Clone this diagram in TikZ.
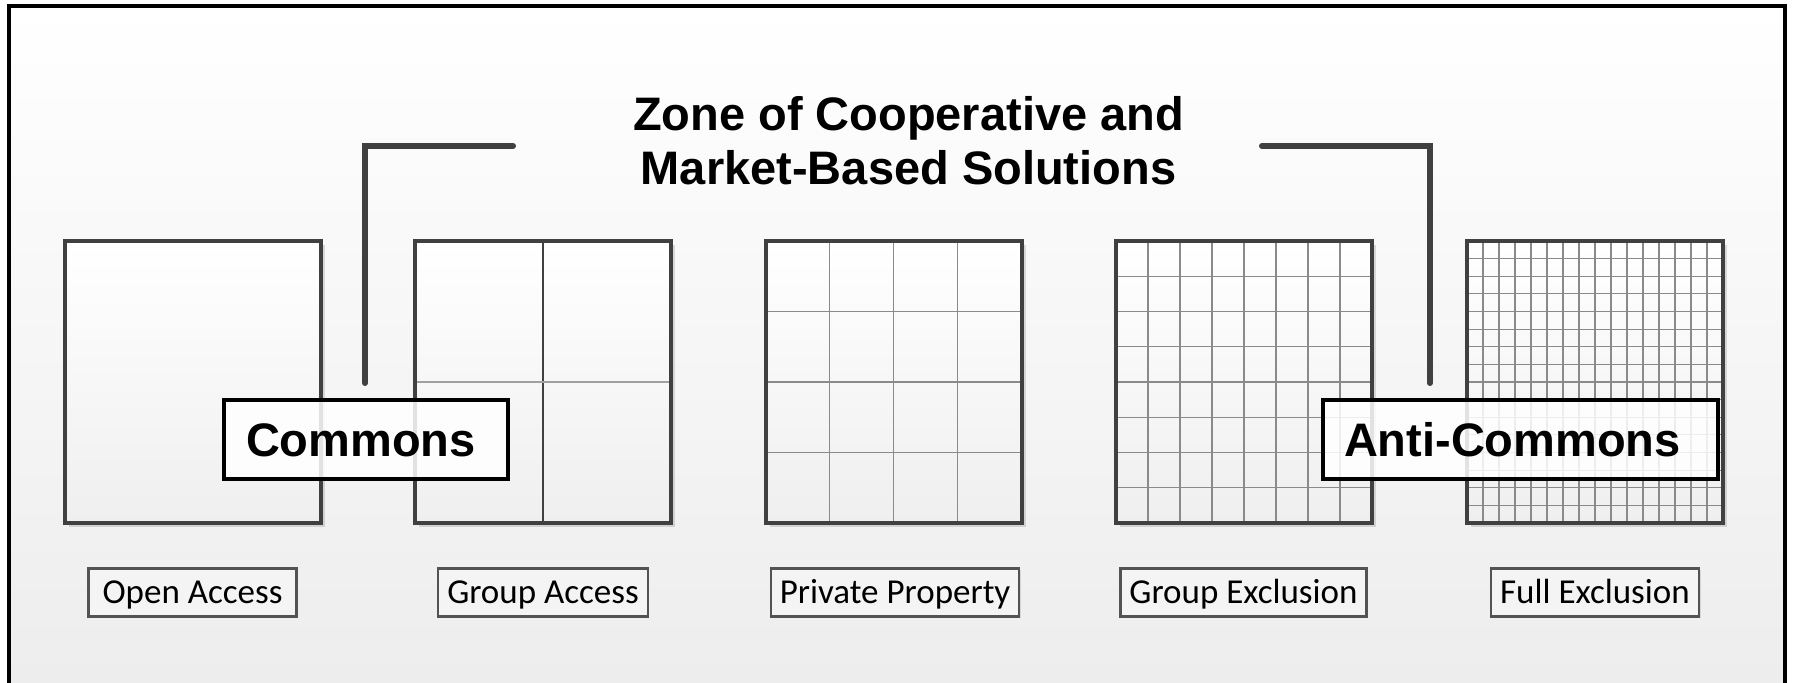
\documentclass[tikz,border=0pt]{standalone}
\usepackage{fontspec}
\setmainfont{Liberation Sans}
\newfontfamily\calfont{Carlito}
\usetikzlibrary{calc,shadows}

\definecolor{edgegray}{HTML}{404040}
\definecolor{finegray}{HTML}{8A8A8A}
\definecolor{lightdiv}{HTML}{A0A0A0}
\definecolor{panelbottom}{HTML}{EDEDED}
\definecolor{cellbottom}{HTML}{EFEFEF}
\definecolor{capfill}{HTML}{F4F4F4}

\begin{document}
\begin{tikzpicture}[x=0.5pt,y=-0.5pt,
  % property squares
  cell/.style={draw=edgegray,line width=2pt,inner sep=0pt,outer sep=0pt,
    minimum width=128pt,minimum height=141pt,anchor=north west,
    top color=white,bottom color=cellbottom,
    drop shadow={shadow xshift=2pt,shadow yshift=-2pt,opacity=.13,fill=black}},
  divider/.style={draw=finegray,shorten <=1pt,shorten >=1pt},
  % captions under the squares
  caption/.style={draw=edgegray!90,line width=1.2pt,fill=capfill,
    inner xsep=4.5pt,minimum width=104pt,minimum height=24pt,
    text height=11.2pt,text depth=0pt,
    font=\calfont\fontsize{17.5pt}{20pt}\selectfont,
    drop shadow={shadow xshift=.8pt,shadow yshift=-.8pt,opacity=.1,fill=black}},
  % bold tags over the squares
  tag/.style={draw=black,line width=2pt,fill=white,fill opacity=.85,text opacity=1,
    minimum height=39.5pt,inner ysep=0pt,align=left,
    text height=17pt,text depth=0pt,
    font=\bfseries\fontsize{23.5pt}{27pt}\selectfont},
  headline/.style={inner sep=0pt,anchor=base,
    font=\bfseries\fontsize{23.5pt}{27pt}\selectfont},
  bracket/.style={draw=edgegray,line width=3pt,line cap=round,line join=miter},
  bracketshade/.style={draw=black!12,line width=3pt,line cap=round,line join=miter}
]
\useasboundingbox (0,0) rectangle (1793,683);

% panel
\fill[white] (0,0) rectangle (1793,683);
\shade[top color=white,bottom color=panelbottom] (9,6) rectangle (1785,683);
\draw[line width=2pt,line join=miter] (9,683) -- (9,6) -- (1785,6) -- (1785,683);

% heading
\node[headline] (title1) at (908.5,131) {Zone of Cooperative and};
\node[headline] (title2) at (908.5,185) {Market-Based Solutions};

% brackets marking the zone
\coordinate (lbA) at (513,146);
\coordinate (lbB) at (365,146);
\coordinate (lbC) at (365,383);
\coordinate (rbA) at (1262,146);
\coordinate (rbB) at (1430,146);
\coordinate (rbC) at (1430,383);
\draw[bracketshade,shift={(3,3)}] (lbA) -- (lbB) -- (lbC);
\draw[bracketshade,shift={(3,3)}] (rbA) -- (rbB) -- (rbC);
\draw[bracket] (lbA) -- (lbB) -- (lbC);
\draw[bracket] (rbA) -- (rbB) -- (rbC);

% squares
\node[cell] (sqA) at (64.5,241) {};
\node[cell] (sqB) at (415,241) {};
\node[cell] (sqC) at (765.6,241) {};
\node[cell] (sqD) at (1116,241) {};
\node[cell] (sqE) at (1467,241) {};

% group access: two by two
\draw[divider,draw=edgegray,line width=1.4pt] ($(sqB.north west)!.5!(sqB.north east)$) -- ($(sqB.south west)!.5!(sqB.south east)$);
\draw[divider,draw=lightdiv,line width=.75pt] ($(sqB.north west)!.5!(sqB.south west)$) -- ($(sqB.north east)!.5!(sqB.south east)$);

% finer subdivisions
\foreach \nm/\n/\lw in {C/4/.8pt,D/8/.7pt,E/16/.6pt}{
  \pgfmathtruncatemacro\last{\n-1}
  \foreach \k in {1,...,\last}{
    \draw[divider,line width=\lw] ($(sq\nm.north west)!\k/\n!(sq\nm.north east)$) -- ($(sq\nm.south west)!\k/\n!(sq\nm.south east)$);
    \draw[divider,line width=\lw] ($(sq\nm.north west)!\k/\n!(sq\nm.south west)$) -- ($(sq\nm.north east)!\k/\n!(sq\nm.south east)$);
  }
}

% captions
\node[caption] (capA) at (192.5,592.5) {Open Access};
\node[caption] (capB) at (543,592.5) {Group Access};
\node[caption] (capC) at (895,592.5) {Private Property};
\node[caption] (capD) at (1243.5,592.5) {Group Exclusion};
\node[caption] (capE) at (1595,592.5) {Full Exclusion};

% tags
\node[tag,inner xsep=11pt,text width=120pt] (commons) at (366,439.5) {Commons};
\node[tag,inner xsep=10.5pt,text width=176.5pt] (anticommons) at (1520.5,439.5) {Anti-Commons};
\end{tikzpicture}
\end{document}
